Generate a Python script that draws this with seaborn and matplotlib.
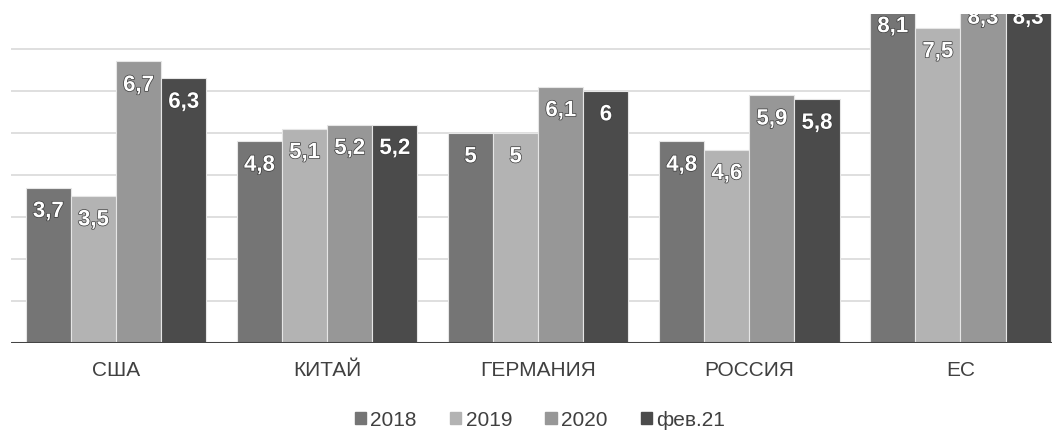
import matplotlib
matplotlib.use("Agg")
import matplotlib.pyplot as plt
import matplotlib.patheffects as pe
import seaborn as sns
import pandas as pd

countries = ["США", "КИТАЙ", "ГЕРМАНИЯ", "РОССИЯ", "ЕС"]
periods = ["2018", "2019", "2020", "фев.21"]
v2018 = [3.7, 4.8, 5.0, 4.8, 8.1]
v2019 = [3.5, 5.1, 5.0, 4.6, 7.5]
v2020 = [6.7, 5.2, 6.1, 5.9, 8.3]
vfeb21 = [6.3, 5.2, 6.0, 5.8, 8.3]
colors = ["#757575", "#b3b3b3", "#979797", "#4b4b4b"]

rows = []
for p, vals in zip(periods, [v2018, v2019, v2020, vfeb21]):
    for c, v in zip(countries, vals):
        rows.append({"country": c, "period": p, "value": v})
df = pd.DataFrame(rows)

sns.set_style("white")
plt.rcParams["font.family"] = ["Liberation Sans", "DejaVu Sans"]

fig = plt.figure(figsize=(10.52, 4.33), dpi=100)
ax = fig.add_axes([10.5 / 1052, 90 / 433, 1055.5 / 1052, 329 / 433])

sns.barplot(data=df, x="country", y="value", hue="period", order=countries,
            hue_order=periods, palette=colors, width=0.855, saturation=1,
            edgecolor="#e6e6e6", linewidth=0.8, ax=ax, legend=False)

ax.set_ylim(0, 7.83)
ax.set_xlim(-0.5, 4.5)
ax.set_yticks(range(1, 8))
ax.yaxis.grid(True, color="#d9d9d9", linewidth=1.2)
ax.set_axisbelow(True)
ax.set_yticklabels([])
ax.tick_params(axis="y", length=0)
ax.tick_params(axis="x", length=0, pad=13, labelsize=15, labelcolor="#404040")
ax.set_xlabel("")
ax.set_ylabel("")
for s in ax.spines.values():
    s.set_visible(False)
ax.axhline(0, color="#444444", linewidth=2.2, zorder=5)

# value labels just inside the bar top (clipped at the axes top like the original)
for cont in ax.containers:
    for bar in cont:
        v = bar.get_height()
        txt = f"{v:g}".replace(".", ",")
        ax.text(bar.get_x() + bar.get_width() / 2, v - 0.57, txt,
                ha="center", va="center", fontsize=16, fontweight="bold",
                color="white", clip_on=True, zorder=6,
                path_effects=[pe.withStroke(linewidth=1.0, foreground="#3a3a3a")])

handles = [plt.Rectangle((0, 0), 1, 1, color=c) for c in colors]
fig.legend(handles, periods, loc="center", bbox_to_anchor=(540 / 1052, 13 / 433),
           ncol=4, frameon=False, fontsize=15, handlelength=0.55, handleheight=0.55,
           handletextpad=0.2, columnspacing=1.6, labelcolor="#404040")

fig.savefig("out.png", dpi=100)
